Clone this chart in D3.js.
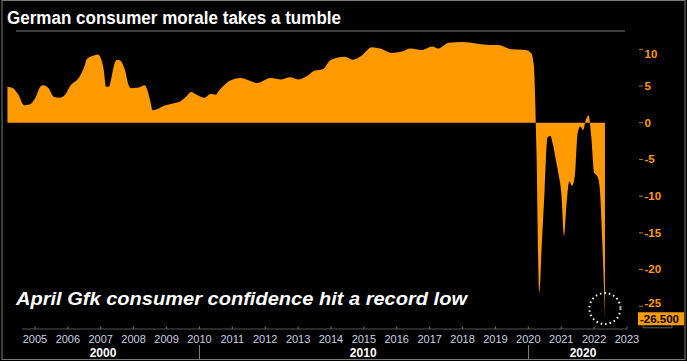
<!DOCTYPE html>
<html>
<head>
<meta charset="utf-8">
<script src="https://cdn.jsdelivr.net/npm/d3@7"></script>
<style>
  html, body { margin: 0; padding: 0; background: #000; }
  svg { display: block; }
</style>
</head>
<body>
<svg id="chart" width="687" height="361"></svg>
<script>
// GfK consumer climate (month, index value)
var months = [
    "2004-03", "2004-05", "2004-07", "2004-09", "2004-11",
    "2005-01", "2005-03", "2005-04", "2005-06", "2005-08", "2005-10", "2005-12",
    "2006-02", "2006-05", "2006-07", "2006-08", "2006-10", "2006-12",
    "2007-01", "2007-02", "2007-03", "2007-04", "2007-05", "2007-06", "2007-07",
    "2007-08", "2007-09", "2007-10", "2007-11", "2007-12",
    "2008-03", "2008-05", "2008-06", "2008-07", "2008-08", "2008-10", "2008-12",
    "2009-03", "2009-06", "2009-08", "2009-10", "2009-12",
    "2010-03", "2010-05", "2010-07", "2010-08", "2010-10", "2010-12",
    "2011-04", "2011-07", "2011-10",
    "2012-03", "2012-07", "2012-10",
    "2013-01", "2013-04", "2013-07", "2013-10",
    "2014-01", "2014-06", "2014-09", "2014-12",
    "2015-04", "2015-07", "2015-11",
    "2016-03", "2016-06", "2016-10",
    "2017-02", "2017-04", "2017-08",
    "2018-01", "2018-06", "2018-11",
    "2019-02", "2019-07", "2019-12",
    "2020-02", "2020-03", "2020-04", "2020-05", "2020-06", "2020-07", "2020-08",
    "2020-09", "2020-10", "2020-11", "2020-12",
    "2021-01", "2021-02", "2021-03", "2021-04", "2021-05", "2021-06",
    "2021-07", "2021-08", "2021-09", "2021-10", "2021-11", "2021-12",
    "2022-01", "2022-02", "2022-03", "2022-04", "2022-05"
];
var values = [
    4.9, 4.7, 3.8, 2.4, 2.5,
    3.3, 4.9, 5.1, 4.7, 3.5, 3.4, 3.8,
    5.1, 6.1, 7.6, 8.7, 9.1, 9.3,
    8.8, 7.4, 4.9, 4.9, 6.2, 8.0, 8.6,
    8.5, 8.0, 7.0, 5.3, 4.7,
    4.8, 5.1, 4.5, 3.1, 1.7, 1.9, 2.3,
    2.6, 2.9, 3.5, 4.2, 3.8,
    3.4, 3.9, 3.8, 4.3, 5.1, 5.7,
    6.1, 5.8, 5.4,
    6.1, 5.9, 6.2,
    5.9, 6.3, 7.1, 7.3,
    8.6, 9.0, 8.6, 9.1,
    10.3, 10.1, 9.5,
    9.7, 10.1, 9.9,
    10.4, 10.1, 10.9,
    11.0, 10.8, 10.6,
    10.6, 10.0, 9.9,
    9.5, 8.0, -4.0, -23.2, -16.0, -9.0, -2.0,
    -1.8, -3.0, -5.0, -7.0,
    -9.5, -15.5, -11.0, -8.0, -8.6, -7.2,
    -1.5, -0.5, -1.0, 0.4, 1.0, -2.0,
    -6.8, -7.2, -8.5, -16.0, -26.5
];
var yTicks = [10, 5, 0, -5, -10, -15, -20, -25];
var yearLabels = ["2005", "2006", "2007", "2008", "2009", "2010", "2011", "2012", "2013",
    "2014", "2015", "2016", "2017", "2018", "2019", "2020", "2021", "2022", "2023"];
var decades = ["2000", "2010", "2020"];
var lastLabel = "-26.500";

var orange = "#ff9b00";
var grey = "#7a7a7a";

var svg = d3.select("#chart"),
    width = +svg.attr("width"),
    height = +svg.attr("height");

var parseMonth = d3.timeParse("%Y-%m");
var data = months.map(function (m, i) { return { date: parseMonth(m), value: values[i] }; });

var x = d3.scaleTime()
    .domain([new Date(2005, 0, 1), new Date(2023, 0, 1)])
    .range([35, 627]);
var y = d3.scaleLinear()
    .domain([-28.1, 12.5])
    .range([329, 31]);

svg.append("rect")
    .attr("width", width).attr("height", height)
    .attr("fill", "#000");

// outer frame
svg.append("rect")
    .attr("x", 2).attr("y", 0.5)
    .attr("width", 683).attr("height", 359)
    .attr("fill", "none")
    .attr("stroke", grey);

// title + rule under it
svg.append("text")
    .attr("x", 7).attr("y", 23.5)
    .attr("font-family", "Liberation Sans, Arial, sans-serif")
    .attr("font-weight", "bold")
    .attr("font-size", "18px")
    .attr("fill", "#fff")
    .attr("textLength", 334)
    .attr("lengthAdjust", "spacingAndGlyphs")
    .text("German consumer morale takes a tumble");

svg.append("line")
    .attr("x1", 16).attr("x2", 625)
    .attr("y1", 31).attr("y2", 31)
    .attr("stroke", grey);

// area from zero
var area = d3.area()
    .x(function (d) { return x(d.date); })
    .y0(y(0))
    .y1(function (d) { return y(d.value); })
    .curve(d3.curveMonotoneX);

svg.append("path")
    .datum(data)
    .attr("d", area)
    .attr("fill", orange);

var lastY = y(values[values.length - 1]);

// y axis on the right
var yAxis = svg.append("g").attr("class", "y-axis");
yAxis.selectAll("line")
    .data(yTicks)
    .enter()
    .append("line")
    .attr("x1", 639).attr("x2", 643)
    .attr("y1", function (d) { return y(d); })
    .attr("y2", function (d) { return y(d); })
    .attr("stroke", "#b77a20");
yAxis.selectAll("text")
    .data(yTicks)
    .enter()
    .append("text")
    .attr("x", 644.5)
    .attr("y", function (d) {
        var yy = Math.max(y(d), 54);
        // keep clear of the last-value tag
        if (Math.abs(yy - lastY) < 14) yy = lastY - 14;
        return yy;
    })
    .attr("dy", "0.34em")
    .attr("font-family", "Liberation Sans, Arial, sans-serif")
    .attr("font-weight", "bold")
    .attr("font-size", "11.5px")
    .attr("fill", orange)
    .text(function (d) { return d; });

// last value tag
svg.append("rect")
    .attr("x", 643).attr("y", lastY + 1)
    .attr("width", 29).attr("height", 9.5)
    .attr("fill", "none")
    .attr("stroke", "#5a5a5a");
svg.append("rect")
    .attr("x", 638).attr("y", lastY - 5)
    .attr("width", 46).attr("height", 13)
    .attr("fill", orange);
svg.append("text")
    .attr("x", 640).attr("y", lastY + 1.5)
    .attr("dy", "0.34em")
    .attr("font-family", "Liberation Sans, Arial, sans-serif")
    .attr("font-weight", "bold")
    .attr("font-size", "11.5px")
    .attr("fill", "#000")
    .text(lastLabel);

// x axis
svg.append("line")
    .attr("x1", 22).attr("x2", 627)
    .attr("y1", 329).attr("y2", 329)
    .attr("stroke", "#555");

var xAxis = svg.append("g").attr("class", "x-axis");
xAxis.selectAll("line")
    .data(yearLabels)
    .enter()
    .append("line")
    .attr("x1", function (d) { return x(new Date(+d, 0, 1)); })
    .attr("x2", function (d) { return x(new Date(+d, 0, 1)); })
    .attr("y1", 326.5).attr("y2", 329)
    .attr("stroke", "#777");
xAxis.selectAll("text")
    .data(yearLabels)
    .enter()
    .append("text")
    .attr("x", function (d) { return x(new Date(+d, 0, 1)); })
    .attr("y", 343)
    .attr("text-anchor", "middle")
    .attr("font-family", "Liberation Sans, Arial, sans-serif")
    .attr("font-size", "11px")
    .attr("fill", "#c8d0e2")
    .text(function (d) { return d; });

// decade row
var decadeCenters = [103, (x(new Date(2010, 0, 1)) + 527) / 2, 583];
svg.selectAll(".decade")
    .data(decades)
    .enter()
    .append("text")
    .attr("class", "decade")
    .attr("x", function (d, i) { return decadeCenters[i]; })
    .attr("y", 356.5)
    .attr("text-anchor", "middle")
    .attr("font-family", "Liberation Sans, Arial, sans-serif")
    .attr("font-weight", "bold")
    .attr("font-size", "12px")
    .attr("fill", "#fff")
    .text(function (d) { return d; });

svg.selectAll(".decade-sep")
    .data(["2010", "2020"])
    .enter()
    .append("line")
    .attr("class", "decade-sep")
    .attr("x1", function (d) { return Math.round(x(new Date(+d, 0, 1))) + 0.5; })
    .attr("x2", function (d) { return Math.round(x(new Date(+d, 0, 1))) + 0.5; })
    .attr("y1", 345).attr("y2", 359)
    .attr("stroke", grey);

// annotation
svg.append("text")
    .attr("x", 16).attr("y", 305)
    .attr("font-family", "Liberation Sans, Arial, sans-serif")
    .attr("font-weight", "bold")
    .attr("font-style", "italic")
    .attr("font-size", "18px")
    .attr("fill", "#fff")
    .attr("textLength", 451)
    .attr("lengthAdjust", "spacingAndGlyphs")
    .text("April Gfk consumer confidence hit a record low");

// dotted ring round the record low
var last = data[data.length - 1];
svg.append("circle")
    .attr("cx", x(last.date))
    .attr("cy", 308.5)
    .attr("r", 15.5)
    .attr("fill", "none")
    .attr("stroke", "#fff")
    .attr("stroke-width", 2)
    .attr("stroke-dasharray", "1.5 3");
</script>
</body>
</html>
